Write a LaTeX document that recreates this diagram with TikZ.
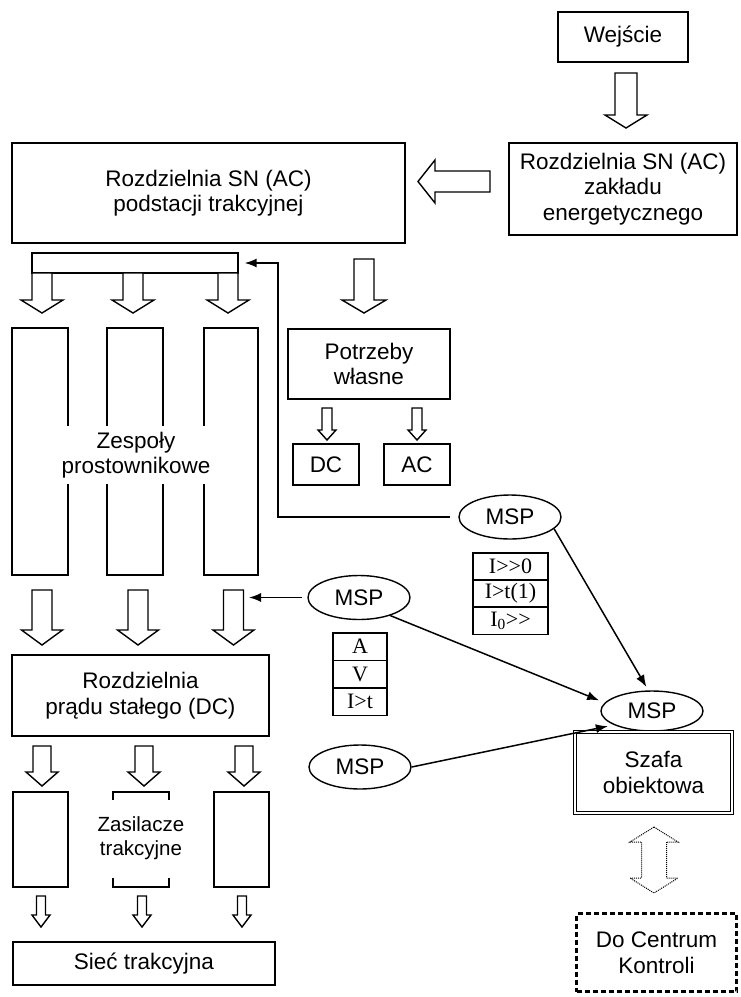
\documentclass[tikz,border=0pt]{standalone}
\usepackage{fontspec}
\setmainfont{Liberation Sans}
\newfontfamily\tmsfont{Liberation Serif}
\usetikzlibrary{arrows.meta,shapes.geometric,calc}
% block arrow pointing down: x, ytop, yhead, ytip, shaft half-width, head half-width
\newcommand\blkdown[6]{\draw[blk] ({#1-#5},#2) -- ({#1+#5},#2) -- ({#1+#5},#3) -- ({#1+#6},#3) -- (#1,#4) -- ({#1-#6},#3) -- ({#1-#5},#3) -- cycle;}
\begin{document}
\begin{tikzpicture}[x=1pt,y=-1pt,line width=1.4pt,
  txt/.style={font=\fontsize{22.5}{25.5}\selectfont},
  box/.style={draw,rectangle,align=center,inner sep=0pt,txt},
  msp/.style={draw,ellipse,minimum width=102pt,minimum height=44pt,inner sep=0pt,txt},
  cell/.style={draw,rectangle,minimum height=27.2pt,inner sep=0pt,line width=1.2pt,font=\tmsfont\fontsize{22}{22}\selectfont},
  blk/.style={draw,fill=white,line join=miter},
  conn/.style={line width=1.5pt,-{Latex[length=12pt,width=9pt]}}]
\useasboundingbox (0,0) rectangle (740,997);
\fill[white] (0,0) rectangle (740,997);

% top right
\node[box,minimum width=130pt,minimum height=50pt] (wej) at (623,37) {Wejście};
\node[box,minimum width=228pt,minimum height=92pt] (zakl) at (623,189) {Rozdzielnia SN (AC)\\zakładu\\energetycznego};
\blkdown{626}{73}{115}{128}{11}{21}
\draw[blk] (490,171) -- (435,171) -- (435,160) -- (418,181.5) -- (435,203) -- (435,192) -- (490,192) -- cycle;

% main AC switchgear
\node[box,minimum width=393pt,minimum height=100pt] (podst) at (208.5,193) {Rozdzielnia SN (AC)\\podstacji trakcyjnej};
\node[box,minimum width=206pt,minimum height=20pt] (bus) at (135,263) {};
\blkdown{42}{273}{300}{313}{10}{21}
\blkdown{133}{273}{300}{313}{10}{21}
\blkdown{228}{273}{300}{313}{10}{21}
\blkdown{364}{259}{300}{313}{10}{22}

% rectifier sets
\node[box,minimum width=56pt,minimum height=247pt] (z1) at (40,451.5) {};
\node[box,minimum width=56pt,minimum height=247pt] (z2) at (135,451.5) {};
\node[box,minimum width=54pt,minimum height=247pt] (z3) at (231,451.5) {};
\node[txt,fill=white,align=center,inner xsep=0pt,inner ysep=6pt] (zesp) at (136,455) {Zespoły\\prostownikowe};

% auxiliary supplies
\node[box,minimum width=162pt,minimum height=70pt] (potrz) at (369,364) {Potrzeby\\własne};
\blkdown{327}{408}{430}{440}{5}{9}
\blkdown{417}{408}{430}{440}{5}{9}
\node[box,minimum width=66pt,minimum height=41pt] (dcb) at (326,464.5) {DC};
\node[box,minimum width=66pt,minimum height=41pt] (acb) at (417,464.5) {AC};

% MSP units
\node[msp] (msp1) at (510,517) {MSP};
\node[msp] (msp2) at (359,597.5) {MSP};
\node[msp] (msp3) at (360,767) {MSP};
\node[msp,minimum height=40pt] (msp4) at (652,711) {MSP};

% tables
\node[cell,minimum width=75pt] (t1a) at (510.5,566.5) {I>>0};
\node[cell,minimum width=75pt] (t1b) at (510.5,593.5) {I>t(1)};
\node[cell,minimum width=75pt] (t1c) at (510.5,620.5) {I\textsubscript{0}>>};
\node[cell,minimum width=54pt] (t2a) at (360,646.5) {A};
\node[cell,minimum width=54pt] (t2b) at (360,674) {V};
\node[cell,minimum width=54pt] (t2c) at (360,701.5) {I>t};

% DC switchgear
\blkdown{42}{590}{630}{645}{10}{20.5}
\blkdown{138}{590}{630}{645}{10}{20.5}
\blkdown{233.5}{590}{630}{645}{10}{20.5}
\node[box,minimum width=257pt,minimum height=81pt] (rdc) at (140.5,695.5) {Rozdzielnia\\prądu stałego (DC)};

% traction feeders
\blkdown{42}{746}{772}{786}{9}{16}
\blkdown{144}{746}{772}{786}{9}{16}
\blkdown{244}{746}{772}{786}{9}{16}
\node[box,minimum width=55pt,minimum height=95pt] (zas1) at (40.5,839.5) {};
\node[box,minimum width=55pt,minimum height=95pt] (zas3) at (241.5,839.5) {};
\draw (113,800) -- (113,792) -- (169,792) -- (169,800);
\draw (113,878) -- (113,887) -- (169,887) -- (169,878);
\node[align=center,font=\fontsize{20.5}{24}\selectfont] (zastxt) at (141,838) {Zasilacze\\trakcyjne};
\blkdown{41}{896}{915}{927}{4.5}{9}
\blkdown{142}{896}{915}{927}{4.5}{9}
\blkdown{242}{896}{915}{927}{4.5}{9}
\node[box,minimum width=262pt,minimum height=43pt] (siec) at (144,963.5) {Sieć trakcyjna};

% cabinet and control centre
\node[box,double,double distance=2.5pt,line width=1.2pt,minimum width=157pt,minimum height=81pt] (szafa) at (653.5,772.5) {Szafa\\obiektowa};
\draw[line width=1pt,densely dotted] (654,827) -- (678,842) -- (666.5,842) -- (666.5,878) -- (678,878) -- (654,893) -- (630,878) -- (641.5,878) -- (641.5,842) -- (630,842) -- cycle;
\node[box,line width=3pt,dash pattern=on 5pt off 3pt,minimum width=160pt,minimum height=78pt] (centrum) at (656.5,952.5) {Do Centrum\\Kontroli};

% connectors
\coordinate (fbc) at (278,517);
\coordinate (a3r) at (244,600);
\draw[conn,shorten <=8pt,shorten >=6pt] (msp1.west) -- (fbc) |- (bus.east);
\draw[conn,shorten <=5pt,shorten >=5pt] (msp2.west) -- (msp2.west -| a3r);
\draw[conn,shorten >=4pt] (msp1.-15) -- (msp4.100);
\draw[conn,shorten >=6pt] (msp2.-30) -- (msp4.170);
\draw[conn,shorten >=6pt] (msp3.east) -- (msp4.200);
\end{tikzpicture}
\end{document}
